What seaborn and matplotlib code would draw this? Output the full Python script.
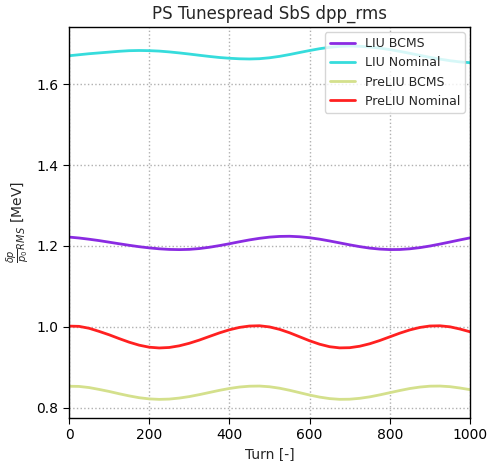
import matplotlib
matplotlib.use('Agg')
import matplotlib.pyplot as plt
import pandas as pd
import seaborn as sns

turns = list(range(0, 1001, 25))

liu_bcms = [1.2220, 1.2197, 1.2167, 1.2133, 1.2094, 1.2055, 1.2017, 1.1982, 1.1953, 1.1930,
            1.1915, 1.1910, 1.1916, 1.1936, 1.1968, 1.2009, 1.2055, 1.2104, 1.2150, 1.2189,
            1.2219, 1.2236, 1.2240, 1.2228, 1.2204, 1.2168, 1.2124, 1.2076, 1.2028, 1.1984,
            1.1947, 1.1923, 1.1911, 1.1913, 1.1930, 1.1959, 1.1999, 1.2047, 1.2098, 1.2150,
            1.2200]
liu_nominal = [1.6700, 1.6725, 1.6750, 1.6770, 1.6790, 1.6810, 1.6825, 1.6830, 1.6826, 1.6815,
               1.6795, 1.6770, 1.6742, 1.6712, 1.6683, 1.6657, 1.6638, 1.6625, 1.6620, 1.6627,
               1.6650, 1.6685, 1.6730, 1.6780, 1.6829, 1.6874, 1.6909, 1.6932, 1.6940, 1.6934,
               1.6916, 1.6889, 1.6852, 1.6808, 1.6760, 1.6710, 1.6661, 1.6617, 1.6578, 1.6548,
               1.6529]
preliu_bcms = [0.8534, 0.8530, 0.8502, 0.8456, 0.8406, 0.8349, 0.8296, 0.8251, 0.8222, 0.8210,
               0.8217, 0.8242, 0.8279, 0.8327, 0.8380, 0.8433, 0.8479, 0.8515, 0.8535, 0.8539,
               0.8522, 0.8486, 0.8435, 0.8376, 0.8317, 0.8266, 0.8229, 0.8211, 0.8214, 0.8236,
               0.8272, 0.8321, 0.8375, 0.8429, 0.8478, 0.8514, 0.8536, 0.8539, 0.8524, 0.8491,
               0.8450]
preliu_nominal = [1.0020, 1.0014, 0.9967, 0.9890, 0.9806, 0.9712, 0.9623, 0.9549, 0.9499, 0.9480,
                  0.9492, 0.9533, 0.9596, 0.9675, 0.9764, 0.9852, 0.9929, 0.9988, 1.0022, 1.0029,
                  1.0000, 0.9940, 0.9856, 0.9757, 0.9658, 0.9573, 0.9511, 0.9482, 0.9487, 0.9523,
                  0.9584, 0.9664, 0.9755, 0.9846, 0.9926, 0.9987, 1.0023, 1.0028, 1.0003, 0.9948,
                  0.9880]

labels = ['LIU BCMS', 'LIU Nominal', 'PreLIU BCMS', 'PreLIU Nominal']
colors = ['#8a2be2', '#36dcdc', '#d4e08c', '#ff2020']

df = pd.DataFrame({
    'turn': turns * 4,
    'dpp': liu_bcms + liu_nominal + preliu_bcms + preliu_nominal,
    'case': [lab for lab in labels for _ in turns],
})

sns.set_style('ticks')
plt.rcParams['font.family'] = ['DejaVu Sans']

fig = plt.figure(figsize=(4.88, 4.61), dpi=100)
ax = fig.add_axes([0.1414, 0.0933, 0.8217, 0.8481])

sns.lineplot(data=df, x='turn', y='dpp', hue='case', hue_order=labels,
             palette=colors, linewidth=2, ax=ax)

ax.set_xlim(0, 1000)
ax.set_ylim(0.775, 1.741)
ax.set_xticks([0, 200, 400, 600, 800, 1000])
ax.set_yticks([0.8, 1.0, 1.2, 1.4, 1.6])
ax.grid(True, linestyle=':', color='#b0b0b0', linewidth=1)
for s in ax.spines.values():
    s.set_color('black')
    s.set_linewidth(1)
ax.tick_params(labelsize=10, colors='black', direction='out', length=4)
ax.set_xlabel('Turn [-]', fontsize=10)
ax.set_ylabel(r'$\frac{\delta p}{p_0}_{RMS}$ [MeV]', fontsize=10)
ax.set_title('PS Tunespread SbS dpp_rms', fontsize=12)
leg = ax.legend(loc='upper right', fontsize=9, frameon=True, fancybox=True, framealpha=0.8,
                borderaxespad=0.4)
leg.get_frame().set_edgecolor('#cccccc')

fig.savefig('out.png', dpi=100)
